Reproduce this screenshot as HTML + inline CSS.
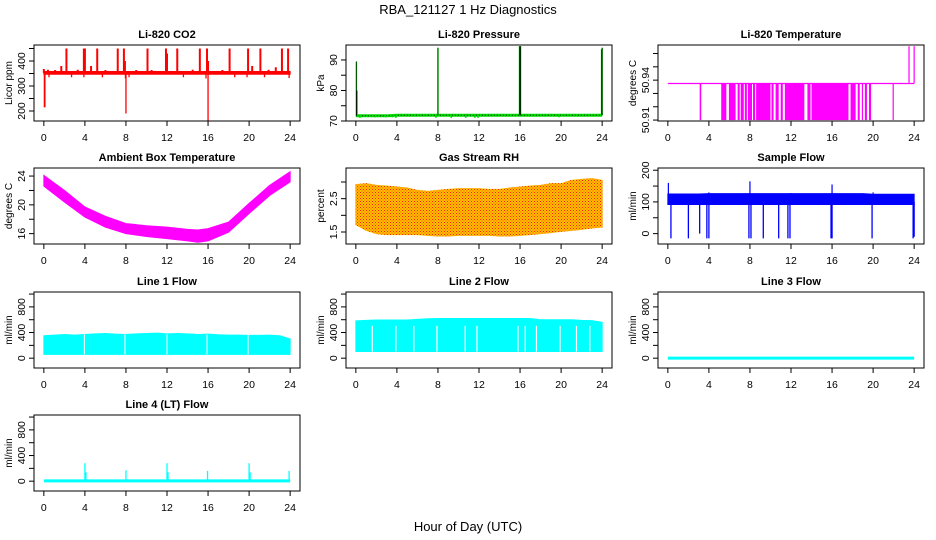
<!DOCTYPE html>
<html><head><meta charset="utf-8"><style>
html,body{margin:0;padding:0;background:#fff;}
svg{display:block;font-family:"Liberation Sans",sans-serif;}
</style></head><body>
<svg id="fig" width="936" height="540" viewBox="0 0 936 540" xmlns="http://www.w3.org/2000/svg">
<rect width="936" height="540" fill="#fff"/>
<text x="468" y="14" text-anchor="middle" font-size="13">RBA_121127  1 Hz Diagnostics</text>
<text x="468" y="531" text-anchor="middle" font-size="13">Hour of Day (UTC)</text>
<g id="plots"></g>
</svg>
<script>
// ---------- data ----------
const hours = [0,1,2,3,4,5,6,7,8,9,10,11,12,13,14,15,16,17,18,19,20,21,22,23,24];
const xTicks = [0,4,8,12,16,20,24];

// CO2
const co2Lo = [347,347,347,347,347,347,347,347,347,347,347,347,347,347,347,347,347,347,347,347,347,347,347,347,347];
const co2Hi = [358,358,358,358,358,358,358,358,358,358,358,358,358,358,358,358,358,358,358,358,358,358,358,358,358];
const co2SpikeT = [2.2,3.9,4.0,5.2,7.2,7.8,10.1,11.9,13.0,15.2,15.9,18.1,19.9,21.1,23.2,23.8,1.7,4.6,7.9,12.0,16.0,20.3,22.6,0.0,0.4,1.1,3.3,6.0,9.0,10.5,14.5,17.4,21.9];
const co2SpikeV = [450,450,450,450,450,450,450,450,450,450,450,450,450,450,450,450,380,380,400,430,400,380,375,368,365,364,365,364,364,364,365,364,365];
const co2DropT = [0.05,0.1,8.0,16.0,0.5,2.7,3.9,5.7,7.95,8.3,13.6,15.8,18.6,19.8,21.5,23.9];
const co2DropV = [215,215,190,160,335,335,335,335,330,335,335,330,335,335,335,332];

// Pressure
const presBase = [71.7,71.7,71.7,71.7,71.9,71.9,71.9,71.9,71.9,71.9,71.9,71.9,71.9,71.9,71.9,71.9,71.9,71.9,71.9,71.9,71.9,71.9,71.9,71.9,71.9];
const presSpikeT = [0.05,0.1,8.0,15.95,16.0,16.05,23.95,24.0];
const presSpikeV = [89.5,80,94,94.5,94.5,94.5,93.5,94];
const presDipT = [0.4,1.9,2.9,3.6,3.9,7.8,9.3,10.7,11.6,11.9,19.8];
const presDipV = [71.0,71.2,71.2,71.2,71.0,71.0,71.0,71.0,71.0,71.0,71.2];

// Li-820 temperature
const tBase = 50.9375;
const tDropStart = [3.1,5.2,5.95,6.8,7.1,7.5,7.8,8.3,8.6,10.1,10.5,11.0,11.4,13.6,14.0,17.8,18.5,18.9,19.2,19.6,21.9];
const tDropEnd   = [3.25,5.7,6.6,7.0,7.4,7.7,8.2,8.5,10.0,10.3,10.8,11.2,13.3,13.9,17.6,18.3,18.7,19.0,19.4,19.8,22.0];
const tDropV = 50.91;
const tSpikeT = [23.5,24.0];
const tSpikeV = [50.9655,50.9655];

// Ambient box temperature
const ambHours = [0,2,4,6,8,10,12,14,15,16,18,20,22,24];
const ambLo = [22.6,20.4,18.3,16.9,16.0,15.6,15.3,15.0,14.8,15.0,16.2,18.8,21.3,23.2];
const ambHi = [24.1,22.0,19.7,18.4,17.4,17.1,16.9,16.6,16.5,16.7,17.6,20.2,22.7,24.6];

// Gas stream RH
const rhLo = [1.72,1.55,1.45,1.42,1.42,1.42,1.42,1.40,1.38,1.38,1.40,1.40,1.40,1.40,1.38,1.38,1.40,1.42,1.45,1.48,1.52,1.55,1.58,1.62,1.65];
const rhHi = [2.92,2.95,2.90,2.88,2.85,2.82,2.75,2.72,2.75,2.78,2.80,2.80,2.80,2.78,2.78,2.82,2.85,2.88,2.90,2.95,2.95,3.05,3.08,3.10,3.05];

// Sample flow
const sfLo = [92,92,92,92,92,92,92,92,92,92,92,92,92,92,92,92,92,92,92,92,92,92,92,92,92];
const sfHi = [125,125,125,125,126,126,126,126,126,126,126,126,126,126,126,126,126,126,126,126,124,124,124,124,124];
const sfDropT = [0.3,2.0,3.1,3.8,4.0,7.9,8.1,9.3,10.8,11.7,11.9,15.9,16.0,19.9,23.9,24.0];
const sfDropV = [-15,-15,0,-15,-15,-15,-15,-15,-15,-15,-15,-15,-15,-15,-15,-10];
const sfSpikeT = [0.05,8.0,16.0,4.0,12.0,20.0];
const sfSpikeV = [160,165,155,130,128,130];

// Line 1 flow
const l1Lo = [60,60,60,60,60,60,60,60,60,60,60,60,60,60,60,60,60,60,60,60,60,60,60,60,60];
const l1Hi = [350,360,370,360,370,380,385,375,370,380,385,390,380,385,380,370,375,365,360,360,355,355,360,350,300];
const l1GapT = [3.95,7.9,12.0,15.9,19.9];

// Line 2 flow
const l2Lo = [104,104,104,104,104,104,104,104,104,104,104,104,104,104,104,104,104,104,104,104,104,104,104,104,104];
const l2Hi = [582,590,595,595,595,595,605,615,618,618,618,618,618,618,618,618,618,618,600,600,600,600,590,585,560];
const l2GapT = [1.6,3.9,5.65,7.9,10.65,11.8,15.8,16.5,17.6,19.9,21.5,22.8];
const l2GapTop = 504;

// Line 3 flow
const l3Vals = [0,0,0,0,0,0,0,0,0,0,0,0,0,0,0,0,0,0,0,0,0,0,0,0,0];

// Line 4 flow
const l4Vals = [5,5,5,5,5,5,5,5,5,5,5,5,5,5,5,5,5,5,5,5,5,5,5,5,5];
const l4SpikeT = [4.0,4.1,8.0,12.0,12.1,15.95,20.0,20.1,23.9];
const l4SpikeV = [280,140,170,280,140,160,280,140,160];

// ---------- drawing ----------
const NS = "http://www.w3.org/2000/svg";
const root = document.getElementById('plots');
function mk(tag, attrs, parent){ const e = document.createElementNS(NS, tag); for (const k in attrs) e.setAttribute(k, attrs[k]); (parent||root).appendChild(e); return e; }

const colL = [34, 346, 658], rowT = [45, 168, 292, 415], PW = 266, PH = 76;

function makePanel(name, col, row, title, ylab, ymin, ymax, yTicks, yLabels){
  const L = colL[col], T = rowT[row], B = T + PH;
  const g = mk('g', {});
  
  
  const sx = h => L + (h + 0.96) / 25.92 * PW;
  const sy = v => B - (v - ymin) / (ymax - ymin) * PH;
  const t = mk('text', {x: L + PW/2, y: T - 7, 'text-anchor':'middle', 'font-size':'11', 'font-weight':'bold'}, g);
  t.textContent = title;
  
  
  const marks = mk('g', {}, g);
  
  
  const box = mk('rect', {x:L, y:T, width:PW, height:PH, fill:'none', stroke:'#000', 'stroke-width':1}, g);
  
  
  const xa = mk('g', {}, g);
  
  
  mk('line', {x1:sx(xTicks[0]), x2:sx(xTicks[xTicks.length-1]), y1:B, y2:B, stroke:'#000'}, xa);
  xTicks.forEach(h => {
    mk('line', {x1:sx(h), x2:sx(h), y1:B, y2:B+5, stroke:'#000'}, xa);
    const tx = mk('text', {x:sx(h), y:B+20, 'text-anchor':'middle', 'font-size':'10.5'}, xa);
    tx.textContent = h;
  });
  const ya = mk('g', {}, g);
  
  
  mk('line', {x1:L, x2:L, y1:sy(yTicks[0]), y2:sy(yTicks[yTicks.length-1]), stroke:'#000'}, ya);
  yTicks.forEach((v, i) => {
    mk('line', {x1:L-5, x2:L, y1:sy(v), y2:sy(v), stroke:'#000'}, ya);
    if (yLabels[i] !== '') {
      const tx = mk('text', {x:0, y:0, 'text-anchor':'middle', 'font-size':'10.5', transform:`translate(${L-9},${sy(v)}) rotate(-90)`}, ya);
      tx.textContent = yLabels[i];
    }
  });
  const yt = mk('text', {x:0, y:0, 'text-anchor':'middle', 'font-size':'10', transform:`translate(${L-22},${T+PH/2}) rotate(-90)`}, ya);
  yt.textContent = ylab;
  
  
  return {g:marks, sx, sy};
}

function band(p, xs, lo, hi, fill){
  let pts = xs.map((h,i)=>p.sx(h)+','+p.sy(hi[i]));
  for (let i = xs.length-1; i >= 0; i--) pts.push(p.sx(xs[i])+','+p.sy(lo[i]));
  const e = mk('polygon', {points:pts.join(' '), fill:fill, stroke:fill, 'stroke-width':1}, p.g);
  
  
}
function line(p, xs, vs, color, w){
  const e = mk('polyline', {points:xs.map((h,i)=>p.sx(h)+','+p.sy(vs[i])).join(' '), fill:'none', stroke:color, 'stroke-width':w}, p.g);
  
  
  return e;
}
function spikes(p, ts, vs, base, color, w){
  ts.forEach((t,i)=>{
    const e = mk('line', {x1:p.sx(t), x2:p.sx(t), y1:p.sy(base), y2:p.sy(vs[i]), stroke:color, 'stroke-width':w}, p.g);
    
    
  });
}

// CO2
let p = makePanel('co2', 0, 0, 'Li-820 CO2', 'Licor ppm', 160, 464, [200,250,300,350,400,450], ['200','','300','','400','']);
band(p, hours, co2Lo, co2Hi, '#ff0000');
spikes(p, co2SpikeT, co2SpikeV, 352, '#ff0000', 2);
spikes(p, co2DropT, co2DropV, 352, '#ff0000', 1.3);

// Pressure
p = makePanel('pressure', 1, 0, 'Li-820 Pressure', 'kPa', 70, 94.9, [70,75,80,85,90], ['70','','80','','90']);
line(p, hours, presBase, '#00dd00', 3);
line(p, hours, presBase, '#000', 0.8).setAttribute('stroke-dasharray','1,2');
spikes(p, presSpikeT, presSpikeV, 71.9, '#00dd00', 1.5);
spikes(p, presSpikeT, presSpikeV, 71.9, '#000', 0.6);
spikes(p, presDipT, presDipV, 71.9, '#00dd00', 1.5);

// Li-820 temperature
p = makePanel('li820-temperature', 2, 0, 'Li-820 Temperature', 'degrees C', 50.9093, 50.9664, [50.91,50.92,50.93,50.94,50.95,50.96], ['50.91','','','50.94','','']);
line(p, [0,24], [tBase,tBase], '#ff00ff', 1.2);
tDropStart.forEach((s,i)=>{
  const e = mk('rect', {x:p.sx(s), y:p.sy(tBase), width:Math.max(1.2, p.sx(tDropEnd[i])-p.sx(s)), height:p.sy(tDropV)-p.sy(tBase), fill:'#ff00ff'}, p.g);
  
  
});
spikes(p, tSpikeT, tSpikeV, tBase, '#ff00ff', 1.2);

// Ambient
p = makePanel('ambient-temperature', 0, 1, 'Ambient Box Temperature', 'degrees C', 14.56, 25.12, [16,18,20,22,24], ['16','','20','','24']);
band(p, ambHours, ambLo, ambHi, '#ff00ff');

// RH
p = makePanel('gas-stream-rh', 1, 1, 'Gas Stream RH', 'percent', 1.14, 3.42, [1.5,2.0,2.5,3.0], ['1.5','','2.5','']);
const defs = mk('defs', {}, p.g);
const pat = mk('pattern', {id:'rhpat', width:3, height:3, patternUnits:'userSpaceOnUse'}, defs);
mk('rect', {width:3, height:3, fill:'#ffc000'}, pat);
mk('rect', {x:0, y:0, width:1, height:1, fill:'#ff2000'}, pat);
mk('rect', {x:1.5, y:1.5, width:1, height:1, fill:'#ff4000'}, pat);
band(p, hours, rhLo, rhHi, 'url(#rhpat)');

// Sample flow
p = makePanel('sample-flow', 2, 1, 'Sample Flow', 'ml/min', -32.8, 207, [0,50,100,150,200], ['0','','100','','200']);
band(p, hours, sfLo, sfHi, '#0000ff');
spikes(p, sfDropT, sfDropV, 100, '#0000ff', 1.3);
spikes(p, sfSpikeT, sfSpikeV, 110, '#0000ff', 1.2);

const fTicks = [0,200,400,600,800,1000], fLabels = ['0','','400','','800',''];
p = makePanel('line1-flow', 0, 2, 'Line 1 Flow', 'ml/min', -153, 1032, fTicks, fLabels);
band(p, hours, l1Lo, l1Hi, '#00ffff');
spikes(p, l1GapT, l1GapT.map(()=>370), 60, '#ffffff', 1);
p = makePanel('line2-flow', 1, 2, 'Line 2 Flow', 'ml/min', -153, 1032, fTicks, fLabels);
band(p, hours, l2Lo, l2Hi, '#00ffff');
spikes(p, l2GapT, l2GapT.map(()=>l2GapTop), 104, '#ffffff', 1.2);
p = makePanel('line3-flow', 2, 2, 'Line 3 Flow', 'ml/min', -153, 1032, fTicks, fLabels);
line(p, hours, l3Vals, '#00ffff', 3);
p = makePanel('line4-flow', 0, 3, 'Line 4 (LT) Flow', 'ml/min', -153, 1032, fTicks, fLabels);
line(p, hours, l4Vals, '#00ffff', 3);
spikes(p, l4SpikeT, l4SpikeV, 5, '#00ffff', 1.3);
</script>
</body></html>
